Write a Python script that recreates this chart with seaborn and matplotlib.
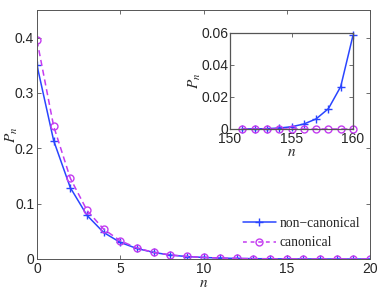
import numpy as np
import pandas as pd
import matplotlib
matplotlib.use("Agg")
import matplotlib.pyplot as plt
import seaborn as sns

# main panel data
n_main = list(range(0, 21))
p_noncanonical = [0.350, 0.214, 0.129, 0.079, 0.048, 0.030, 0.019, 0.012, 0.007, 0.0045,
                  0.0028, 0.0017, 0.0010, 0.0006, 0.0004, 0.0002, 0.0001, 0.0001, 0.0, 0.0, 0.0]
p_canonical = [0.395, 0.240, 0.146, 0.088, 0.054, 0.033, 0.020, 0.012, 0.0075, 0.0046,
               0.0028, 0.0017, 0.0010, 0.0006, 0.0004, 0.0002, 0.0001, 0.0001, 0.0, 0.0, 0.0]

# inset data
n_inset = list(range(151, 161))
p_nc_inset = [0.0, 0.0001, 0.0002, 0.0006, 0.0014, 0.0031, 0.0063, 0.0127, 0.0265, 0.0585]
p_c_inset = [0.0] * 10

sns.set_style("ticks")
plt.rcParams['font.family'] = ['Liberation Sans', 'DejaVu Sans']
plt.rcParams['mathtext.fontset'] = 'stix'
plt.rcParams['xtick.direction'] = 'in'
plt.rcParams['ytick.direction'] = 'in'

blue = "#2a45ff"
pink = "#c43cf0"
edge = "#555555"

main_df = pd.DataFrame({"n": n_main, "nc": p_noncanonical, "c": p_canonical})
inset_df = pd.DataFrame({"n": n_inset, "nc": p_nc_inset, "c": p_c_inset})

nc_style = dict(color=blue, marker="+", markersize=6, markeredgewidth=1,
                markeredgecolor=blue, linewidth=1.1)
c_style = dict(color=pink, marker="o", markersize=5, markerfacecolor="none",
               markeredgecolor=pink, markeredgewidth=1, linewidth=1.1)

fig = plt.figure(figsize=(3.82, 2.91), dpi=100)
ax = fig.add_axes([37 / 382, 1 - 259 / 291, (370 - 37) / 382, (259 - 10) / 291])

sns.lineplot(data=main_df, x="n", y="nc", ax=ax, label="non\u2212canonical", **nc_style)
sns.lineplot(data=main_df, x="n", y="c", ax=ax, label="canonical", **c_style)
ax.lines[1].set_linestyle((0, (4, 2.5)))

ax.set_xlim(0, 20)
ax.set_ylim(0, 0.45)
ax.set_xticks([0, 5, 10, 15, 20])
ax.set_yticks([0, 0.1, 0.2, 0.3, 0.4])
ax.set_yticklabels(["0", "0.1", "0.2", "0.3", "0.4"])
ax.tick_params(top=True, right=True, labelsize=10, length=3, width=0.6, pad=2, color=edge)
for s in ax.spines.values():
    s.set_visible(True)
    s.set_color(edge)
    s.set_linewidth(0.7)
ax.set_xlabel("$n$", fontsize=11, labelpad=0)
ax.set_ylabel("$P_n$", fontsize=11, labelpad=-4)

leg = ax.legend(loc="lower right", frameon=False, handlelength=2.4,
                handletextpad=0.3, labelspacing=0.5, borderaxespad=0.3,
                prop={"family": "Liberation Serif", "size": 9.8})
leg.get_lines()[1].set_linestyle((0, (2.5, 2.5)))

# inset
ins = fig.add_axes([230 / 382, 1 - 129 / 291, (353 - 230) / 382, (129 - 33) / 291])
sns.lineplot(data=inset_df, x="n", y="nc", ax=ins, **nc_style)
sns.lineplot(data=inset_df, x="n", y="c", ax=ins, **c_style)
ins.lines[1].set_linestyle((0, (4, 2.5)))
for ln in ins.lines:
    ln.set_clip_on(False)
ins.set_xlim(150, 160)
ins.set_ylim(0, 0.06)
ins.set_xticks([150, 155, 160])
ins.set_yticks([0, 0.02, 0.04, 0.06])
ins.set_yticklabels(["0", "0.02", "0.04", "0.06"])
ins.tick_params(top=True, right=True, labelsize=10, length=3, width=0.6, color=edge)
ins.tick_params(axis="x", pad=2.5)
ins.tick_params(axis="y", pad=1)
for s in ins.spines.values():
    s.set_visible(True)
    s.set_color(edge)
    s.set_linewidth(0.9)
ins.set_xlabel("$n$", fontsize=11, labelpad=-1)
ins.set_ylabel("$P_n$", fontsize=11, labelpad=-1)

fig.savefig("out.png", dpi=100)
